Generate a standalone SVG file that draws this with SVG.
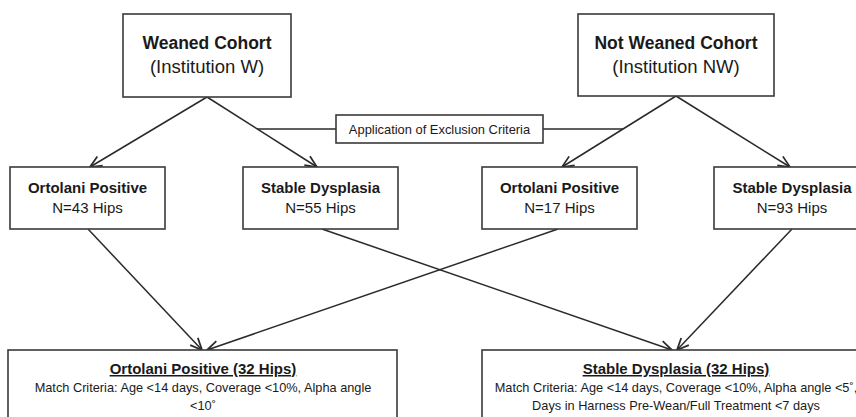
<svg xmlns="http://www.w3.org/2000/svg" width="856" height="417" viewBox="0 0 856 417">
<style>
.box{fill:#fff;stroke:#3a3a3a;stroke-width:1.6}
.t{font-family:"Liberation Sans",Arial,sans-serif;fill:#1a1a1a;text-anchor:middle}
.b{font-weight:bold}
.c{stroke:#2a2a2a;stroke-width:1.5;fill:none}
</style>
<defs>
<marker id="arr" markerUnits="userSpaceOnUse" markerWidth="14" markerHeight="14" viewBox="0 0 12 12" refX="11" refY="6" orient="auto">
<path d="M1,1.5 L11,6 L1,10.5" fill="none" stroke="#2a2a2a" stroke-width="1.5"/>
</marker>
</defs>
<rect width="856" height="417" fill="#fff"/>
<g id="connectors">
<line class="c" x1="207" y1="97" x2="90" y2="167" marker-end="url(#arr)"/>
<line class="c" x1="207" y1="97" x2="317" y2="167" marker-end="url(#arr)"/>
<line class="c" x1="676" y1="96" x2="562" y2="167" marker-end="url(#arr)"/>
<line class="c" x1="676" y1="96" x2="790" y2="167" marker-end="url(#arr)"/>
<line class="c" x1="257" y1="129" x2="336" y2="129"/>
<line class="c" x1="543" y1="129" x2="623" y2="129"/>
<line class="c" x1="88" y1="229" x2="202" y2="350" marker-end="url(#arr)"/>
<line class="c" x1="558" y1="229" x2="207" y2="350" marker-end="url(#arr)"/>
<line class="c" x1="322" y1="229" x2="672" y2="350" marker-end="url(#arr)"/>
<line class="c" x1="792" y1="229" x2="677" y2="350" marker-end="url(#arr)"/>
</g>
<g id="weaned">
<rect class="box" x="123" y="14" width="168" height="83"/>
<text class="t b" x="207" y="49" font-size="17.5">Weaned Cohort</text>
<text class="t" x="207" y="73" font-size="18.5">(Institution W)</text>
</g>
<g id="notweaned">
<rect class="box" x="578" y="14" width="196" height="82"/>
<text class="t b" x="676" y="49" font-size="17.5">Not Weaned Cohort</text>
<text class="t" x="676" y="73" font-size="18.5">(Institution NW)</text>
</g>
<g id="exclusion">
<rect class="box" x="336" y="115" width="207" height="28"/>
<text class="t" x="439.5" y="134" font-size="12.9">Application of Exclusion Criteria</text>
</g>
<g id="w-ortolani">
<rect class="box" x="10" y="167" width="155" height="62"/>
<text class="t b" x="87.5" y="193" font-size="15">Ortolani Positive</text>
<text class="t" x="87.5" y="213" font-size="15">N=43 Hips</text>
</g>
<g id="w-stable">
<rect class="box" x="243" y="167" width="155" height="62"/>
<text class="t b" x="320.5" y="193" font-size="15">Stable Dysplasia</text>
<text class="t" x="320.5" y="213" font-size="15">N=55 Hips</text>
</g>
<g id="nw-ortolani">
<rect class="box" x="482" y="167" width="155" height="62"/>
<text class="t b" x="559.5" y="193" font-size="15">Ortolani Positive</text>
<text class="t" x="559.5" y="213" font-size="15">N=17 Hips</text>
</g>
<g id="nw-stable">
<rect class="box" x="714" y="167" width="156" height="62"/>
<text class="t b" x="792" y="193" font-size="15">Stable Dysplasia</text>
<text class="t" x="792" y="213" font-size="15">N=93 Hips</text>
</g>
<g id="ortolani-matched">
<rect class="box" x="8" y="350" width="389" height="90"/>
<text class="t b" x="203" y="374" font-size="15" text-decoration="underline">Ortolani Positive (32 Hips)</text>
<text class="t" x="203" y="392" font-size="12.75">Match Criteria: Age &lt;14 days, Coverage &lt;10%, Alpha angle</text>
<text class="t" x="203" y="410" font-size="12.75">&lt;10˚</text>
</g>
<g id="stable-matched">
<rect class="box" x="482" y="350" width="389" height="90"/>
<text class="t b" x="676" y="374" font-size="15" text-decoration="underline">Stable Dysplasia (32 Hips)</text>
<text class="t" x="676" y="392" font-size="12.75">Match Criteria: Age &lt;14 days, Coverage &lt;10%, Alpha angle &lt;5˚,</text>
<text class="t" x="676" y="410" font-size="12.75">Days in Harness Pre-Wean/Full Treatment &lt;7 days</text>
</g>
</svg>
